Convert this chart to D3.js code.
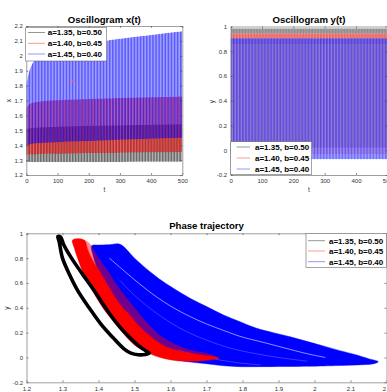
<!DOCTYPE html>
<html><head><meta charset="utf-8">
<script src="https://cdn.jsdelivr.net/npm/d3@7/dist/d3.min.js"></script>
<style>
html,body{margin:0;padding:0;background:#fff;overflow:hidden}
svg{display:block}
text{font-family:"Liberation Sans",Arial,Helvetica,sans-serif}
</style></head><body>
<svg id="chart" width="387" height="392"></svg>
<script>
// ================= DATA =================
const seriesNames = ["a=1.35, b=0.50", "a=1.40, b=0.45", "a=1.45, b=0.40"];
const seriesColors = ["#000000", "#ff0000", "#0000ff"];

// Oscillogram x(t): visual envelopes
const tEnv      = [0, 5, 10, 20, 35, 50, 75, 100, 150, 200, 250, 300, 400, 500];
const xMaxBlack = [1.51, 1.512, 1.514, 1.516, 1.518, 1.52, 1.522, 1.524, 1.527, 1.53, 1.532, 1.534, 1.537, 1.54];
const xMinBlack = [1.287, 1.287, 1.287, 1.287, 1.287, 1.287, 1.287, 1.287, 1.288, 1.288, 1.288, 1.288, 1.289, 1.289];
const xMaxRed   = [1.65, 1.665, 1.675, 1.685, 1.69, 1.695, 1.70, 1.702, 1.706, 1.71, 1.713, 1.716, 1.721, 1.727];
const xMinRed   = [1.335, 1.336, 1.337, 1.338, 1.34, 1.341, 1.342, 1.343, 1.345, 1.347, 1.348, 1.35, 1.352, 1.355];
const xMaxBlue  = [1.80, 1.86, 1.90, 1.95, 1.99, 2.01, 2.035, 2.05, 2.07, 2.085, 2.10, 2.115, 2.14, 2.165];
const xMinBlue  = [1.39, 1.40, 1.405, 1.41, 1.413, 1.415, 1.418, 1.42, 1.424, 1.428, 1.432, 1.436, 1.443, 1.45];
const oscPeriod = [9.3, 9.6, 9.9];           // oscillation period (t units) per series
const markerPoints = [[150, 1.83]];

// Oscillogram y(t): ranges per series
const yTop       = [0.985, 0.945, 0.905];
const yCapBottom = [0.945, 0.905, 0.86];
const yBottom    = [0.02, -0.03, -0.072];

// Phase trajectory shapes (x, y)
const blackLoop = [[1.287,0.975],[1.291,0.93],[1.30,0.80],[1.32,0.665],[1.344,0.53],[1.375,0.396],[1.409,0.26],[1.44,0.16],[1.469,0.074],[1.49,0.035],[1.51,0.022],[1.53,0.024],[1.541,0.034],
  [1.533,0.05],[1.505,0.11],[1.48,0.18],[1.455,0.26],[1.42,0.396],[1.39,0.53],[1.357,0.665],[1.325,0.80],[1.303,0.91],[1.295,0.97]];
const redBand = [[1.328,0.946],[1.333,0.88],[1.342,0.80],[1.36,0.665],[1.385,0.53],[1.413,0.396],[1.45,0.26],[1.47,0.19],[1.49,0.127],[1.51,0.08],[1.53,0.05],[1.555,0.015],[1.585,-0.01],[1.62,-0.027],[1.66,-0.03],[1.70,-0.022],[1.735,-0.005],
  [1.72,0.006],[1.68,0.022],[1.64,0.042],[1.60,0.072],[1.57,0.115],[1.54,0.18],[1.51,0.26],[1.49,0.33],[1.469,0.396],[1.45,0.465],[1.437,0.53],[1.422,0.60],[1.409,0.665],[1.395,0.73],[1.381,0.80],[1.37,0.87],[1.36,0.946]];
const redHaze = [[1.36,0.946],[1.37,0.87],[1.381,0.80],[1.395,0.73],[1.409,0.665],[1.422,0.60],[1.437,0.53],[1.45,0.465],[1.469,0.396],[1.49,0.33],[1.51,0.26],[1.54,0.18],[1.57,0.115],[1.60,0.072],[1.64,0.042],[1.68,0.022],[1.735,-0.005],
  [1.70,0.035],[1.65,0.065],[1.61,0.11],[1.575,0.17],[1.545,0.25],[1.52,0.33],[1.50,0.40],[1.48,0.47],[1.462,0.54],[1.445,0.61],[1.43,0.68],[1.41,0.76],[1.39,0.85],[1.375,0.92]];
const blueBand = [[1.381,0.90],[1.40,0.905],[1.43,0.908],[1.46,0.911],[1.50,0.80],[1.543,0.69],[1.575,0.62],[1.608,0.557],[1.654,0.477],[1.70,0.41],[1.747,0.342],[1.793,0.288],[1.839,0.235],[1.885,0.20],[1.932,0.167],[1.978,0.13],[2.024,0.093],[2.07,0.055],[2.117,0.02],[2.15,-0.01],[2.177,-0.034],
  [2.165,-0.05],[2.117,-0.06],[2.07,-0.065],[2.024,-0.068],[1.932,-0.072],[1.839,-0.074],[1.793,-0.074],[1.747,-0.066],[1.70,-0.05],[1.65,-0.035],[1.60,-0.01],
  [1.56,0.03],[1.53,0.10],[1.50,0.20],[1.475,0.30],[1.45,0.40],[1.43,0.50],[1.41,0.62],[1.395,0.73],[1.385,0.82]];
const blueGaps = [
  [[1.43,0.80],[1.47,0.70],[1.515,0.59],[1.56,0.49],[1.608,0.40],[1.654,0.33],[1.70,0.27],[1.75,0.215],[1.793,0.17],[1.86,0.12],[1.932,0.065],[1.98,0.03],[2.03,0.0]],
  [[1.46,0.62],[1.50,0.50],[1.55,0.38],[1.60,0.28],[1.65,0.20],[1.70,0.14],[1.76,0.08],[1.82,0.04],[1.90,0.0],[1.98,-0.03]],
  [[1.62,0.06],[1.70,0.0],[1.78,-0.04],[1.85,-0.06]]
];

// tick values
const tTicks   = [0, 100, 200, 300, 400, 500];
const xtYTicks = [1.2, 1.3, 1.4, 1.5, 1.6, 1.7, 1.8, 1.9, 2.0, 2.1, 2.2];
const ytYTicks = [-0.2, 0, 0.2, 0.4, 0.6, 0.8, 1];
const phXTicks = [1.2, 1.3, 1.4, 1.5, 1.6, 1.7, 1.8, 1.9, 2.0, 2.1, 2.2];
const phYTicks = [-0.2, 0, 0.2, 0.4, 0.6, 0.8, 1];

// ================= STYLE =================
const legendColors = ["#8a8a8a", "#ff8a8a", "#8a8aff"];
const xtBase = [0.30, 0.38, 0.38], xtStripe = [0.40, 0.40, 0.42];
const ytBase = [0.10, 0.10, 0.38], ytStripe = [0.10, 0.12, 0.30], ytCap = [0.30, 0.35, 0.12];
const gapWidth = [0.8, 0.5, 0.5], gapOpacity = [0.7, 0.45, 0.45];
const fmt = v => String(+v.toFixed(1));

const svg = d3.select("#chart");
const defs = svg.append("defs");

function clipRect(id, xs, ys) {
  const [x0, x1] = xs.range(), [yb, yt] = ys.range();
  defs.append("clipPath").attr("id", id).append("rect")
    .attr("x", x0).attr("y", yt).attr("width", x1 - x0).attr("height", yb - yt);
}

function drawAxes(g, xs, ys, xTicks, yTicks, labelX, labelY, lxPos, lyPos) {
  const [x0, x1] = xs.range(), [yb, yt] = ys.range();
  const styleAx = sel => {
    sel.attr("font-size", 6).attr("font-family", null);
    sel.select(".domain").attr("stroke", "#777").attr("stroke-width", 0.7);
    sel.selectAll(".tick line").attr("stroke", "#444").attr("stroke-width", 0.6);
    sel.selectAll(".tick text").attr("fill", "#333");
  };
  g.append("g").attr("transform", `translate(0,${yb})`)
    .call(d3.axisBottom(xs).tickValues(xTicks).tickFormat(fmt).tickSize(-2).tickSizeOuter(0).tickPadding(4)).call(styleAx);
  g.append("g").attr("transform", `translate(0,${yt})`)
    .call(d3.axisTop(xs).tickValues(xTicks).tickFormat("").tickSize(-2).tickSizeOuter(0)).call(styleAx);
  g.append("g").attr("transform", `translate(${x0},0)`)
    .call(d3.axisLeft(ys).tickValues(yTicks).tickFormat(fmt).tickSize(-2).tickSizeOuter(0).tickPadding(3.5)).call(styleAx);
  g.append("g").attr("transform", `translate(${x1},0)`)
    .call(d3.axisRight(ys).tickValues(yTicks).tickFormat("").tickSize(-2).tickSizeOuter(0)).call(styleAx);
  if (labelX) g.append("text").attr("x", lxPos[0]).attr("y", lxPos[1]).attr("text-anchor", "middle")
    .attr("font-size", 6.5).attr("fill", "#333").text(labelX);
  g.append("text").attr("transform", `translate(${lyPos[0]},${lyPos[1]}) rotate(-90)`).attr("text-anchor", "middle")
    .attr("font-size", 6.5).attr("fill", "#333").text(labelY);
}

function drawTitle(text, x, y) {
  svg.append("text").attr("x", x).attr("y", y).attr("text-anchor", "middle")
    .attr("font-size", 9.6).attr("font-weight", "bold").attr("fill", "#000").text(text);
}

function drawLegend(box, lineX0, lineX1, textX, rows) {
  const g = svg.append("g");
  g.append("rect").attr("x", box[0]).attr("y", box[1]).attr("width", box[2] - box[0]).attr("height", box[3] - box[1])
    .attr("fill", "#fff").attr("stroke", "#666").attr("stroke-width", 0.6);
  seriesNames.forEach((n, i) => {
    g.append("line").attr("x1", lineX0).attr("x2", lineX1).attr("y1", rows[i]).attr("y2", rows[i])
      .attr("stroke", legendColors[i]).attr("stroke-width", 0.9);
    g.append("text").attr("x", textX).attr("y", rows[i] + 2.9).attr("font-size", 8).attr("font-weight", "bold")
      .attr("fill", "#000").text(n);
  });
}

// ================= PLOT 1: x(t) =================
{
  const xs = d3.scaleLinear().domain([0, 500]).range([26.3, 182.3]);
  const ys = d3.scaleLinear().domain([1.2, 2.2]).range([175, 26]);
  clipRect("clipXT", xs, ys);
  const g = svg.append("g");
  const data = g.append("g").attr("clip-path", "url(#clipXT)");
  const env = [[xMinBlack, xMaxBlack], [xMinRed, xMaxRed], [xMinBlue, xMaxBlue]];
  env.forEach(([lo, hi], i) => {
    const pts = tEnv.map((t, k) => ({t, lo: lo[k], hi: hi[k]}));
    const area = d3.area().x(d => xs(d.t)).y0(d => ys(d.lo)).y1(d => ys(d.hi)).curve(d3.curveMonotoneX);
    const id = "xtband" + i;
    defs.append("clipPath").attr("id", id).append("path").attr("d", area(pts));
    const sg = data.append("g").attr("clip-path", `url(#${id})`);
    sg.append("path").attr("d", area(pts)).attr("fill", seriesColors[i]).attr("fill-opacity", xtBase[i]);
    sg.selectAll("line").data(d3.range(0, 500 + oscPeriod[i], oscPeriod[i])).join("line")
      .attr("x1", d => xs(d)).attr("x2", d => xs(d)).attr("y1", ys(1.2)).attr("y2", ys(2.2))
      .attr("stroke", seriesColors[i]).attr("stroke-opacity", xtStripe[i]).attr("stroke-width", 1.5);
  });
  data.selectAll("circle.mk").data(markerPoints).join("circle").attr("class", "mk")
    .attr("cx", d => xs(d[0])).attr("cy", d => ys(d[1])).attr("r", 1.4)
    .attr("fill", "#e85a7a").attr("fill-opacity", 0.85);
  drawAxes(g, xs, ys, tTicks, xtYTicks, "t", "x", [104.3, 192], [11, 100.5]);
  drawTitle("Oscillogram x(t)", 104.3, 22.5);
  drawLegend([25.7, 27.7, 106.7, 61], 28, 45, 47.7, [32.5, 43.3, 54]);
}

// ================= PLOT 2: y(t) =================
{
  const xs = d3.scaleLinear().domain([0, 500]).range([230.7, 387.3]);
  const ys = d3.scaleLinear().domain([-0.2, 1]).range([175, 26.5]);
  clipRect("clipYT", xs, ys);
  const g = svg.append("g");
  const data = g.append("g").attr("clip-path", "url(#clipYT)");
  seriesNames.forEach((n, i) => {
    const id = "ytband" + i;
    const x0 = xs(0), x1 = xs(500);
    defs.append("clipPath").attr("id", id).append("rect")
      .attr("x", x0).attr("y", ys(yTop[i])).attr("width", x1 - x0).attr("height", ys(yBottom[i]) - ys(yTop[i]));
    const sg = data.append("g").attr("clip-path", `url(#${id})`);
    sg.append("rect").attr("x", x0).attr("y", ys(yTop[i])).attr("width", x1 - x0)
      .attr("height", ys(yBottom[i]) - ys(yTop[i])).attr("fill", seriesColors[i]).attr("fill-opacity", ytBase[i]);
    sg.append("rect").attr("x", x0).attr("y", ys(yTop[i])).attr("width", x1 - x0)
      .attr("height", ys(yCapBottom[i]) - ys(yTop[i])).attr("fill", seriesColors[i]).attr("fill-opacity", ytCap[i]);
    sg.selectAll("line").data(d3.range(0, 500 + oscPeriod[i], oscPeriod[i])).join("line")
      .attr("x1", d => xs(d)).attr("x2", d => xs(d)).attr("y1", ys(-0.2)).attr("y2", ys(1))
      .attr("stroke", seriesColors[i]).attr("stroke-opacity", ytStripe[i]).attr("stroke-width", 1.5);
  });
  drawAxes(g, xs, ys, tTicks, ytYTicks, "t", "y", [309, 192], [214, 101.5]);
  drawTitle("Oscillogram y(t)", 309, 22.5);
  drawLegend([230.7, 141.7, 311.7, 174.3], 236.7, 250, 255, [147, 158, 169]);
}

// ================= PLOT 3: phase =================
{
  const xs = d3.scaleLinear().domain([1.2, 2.2]).range([26.5, 386.5]);
  const ys = d3.scaleLinear().domain([-0.2, 1]).range([382.3, 233.3]);
  clipRect("clipPH", xs, ys);
  const g = svg.append("g");
  const data = g.append("g").attr("clip-path", "url(#clipPH)");
  const closed = d3.line().x(d => xs(d[0])).y(d => ys(d[1])).curve(d3.curveCatmullRomClosed.alpha(0.5));
  const open = d3.line().x(d => xs(d[0])).y(d => ys(d[1])).curve(d3.curveCatmullRom.alpha(0.5));
  data.append("path").attr("d", closed(blueBand)).attr("fill", seriesColors[2]).attr("stroke", seriesColors[2]).attr("stroke-width", 0.5);
  blueGaps.forEach((c, k) => {
    data.append("path").attr("d", open(c)).attr("fill", "none").attr("stroke", "#fff")
      .attr("stroke-width", gapWidth[k]).attr("stroke-opacity", gapOpacity[k]);
  });
  data.append("path").attr("d", closed(redHaze)).attr("fill", seriesColors[1]).attr("fill-opacity", 0.45);
  data.append("path").attr("d", closed(redBand)).attr("fill", seriesColors[1]).attr("stroke", seriesColors[1]).attr("stroke-width", 0.5);
  data.append("path").attr("d", closed(blackLoop)).attr("fill", "none").attr("stroke", seriesColors[0])
    .attr("stroke-width", 3.6).attr("stroke-linejoin", "round");
  drawAxes(g, xs, ys, phXTicks, phYTicks, null, "y", null, [8.5, 308]);
  drawTitle("Phase trajectory", 206.5, 229);
  drawLegend([306, 233.3, 386.5, 267.3], 308, 325, 329, [240.7, 251, 261.7]);
}
</script>
</body></html>
